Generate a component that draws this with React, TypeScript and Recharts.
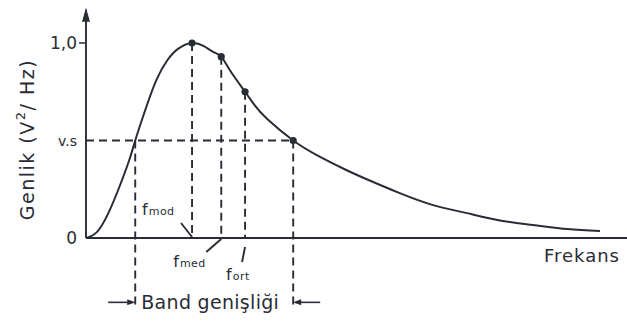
import React from "react";
import {
  ComposedChart,
  Line,
  Scatter,
  XAxis,
  YAxis,
  ReferenceLine,
  ReferenceDot,
} from "recharts";

// spectrum curve (frequency in arbitrary units, amplitude normalised to peak)
const freq = [0, 2, 4, 6, 8, 9.1, 11, 13, 15, 17, 19.6, 21.7, 23.5, 25, 26.6, 29.4, 31.2, 33.5, 38.3, 43, 48, 52, 58, 64, 70, 76.5, 82.6, 89, 95];
const amp = [0, 0.03, 0.12, 0.25, 0.4, 0.5, 0.66, 0.81, 0.91, 0.97, 1.0, 0.985, 0.955, 0.93, 0.86, 0.75, 0.68, 0.61, 0.5, 0.42, 0.35, 0.3, 0.23, 0.17, 0.13, 0.09, 0.067, 0.046, 0.036];

// characteristic frequencies
const fMod = 19.6;
const fMed = 25;
const fOrt = 29.4;
const bandLo = 9.1;
const bandHi = 38.3;
const markFreq = [fMod, fMed, fOrt, bandHi];
const markAmp = [1.0, 0.93, 0.75, 0.5];

const halfPower = 0.5;
const yTicks = [0, 0.5, 1];
const yTickText = ["0", "v.s", "1,0"];

const curve = freq.map((f, i) => ({ f, a: amp[i] }));
const marks = markFreq.map((f, i) => ({ f, a: markAmp[i] }));

const INK = "#2a2c35";
const FONT = "'DejaVu Sans', sans-serif";
const DASH = "8 5";
const SW = 1.9;
const BAND_Y = -0.33;

function YTick(props: any) {
  const { x, y, payload } = props;
  const i = yTicks.indexOf(payload.value);
  const big = payload.value !== halfPower;
  return (
    <g>
      <text
        x={x}
        y={y}
        textAnchor="end"
        dominantBaseline="central"
        fontFamily={FONT}
        fontSize={big ? 17 : 14}
        fill={INK}
      >
        {yTickText[i]}
      </text>
      {payload.value === 1 && (
        <line x1={x + 2} y1={y} x2={x + 8} y2={y} stroke={INK} strokeWidth={1.5} />
      )}
    </g>
  );
}

function FLabel({ x, y, sub }: { x: number; y: number; sub: string }) {
  return (
    <text x={x} y={y} fontFamily={FONT} fill={INK} fontSize={16}>
      f<tspan fontSize={11} dx={1} letterSpacing={0.5}>{sub}</tspan>
    </text>
  );
}

export default function App() {
  return (
    <div style={{ position: "absolute", left: 0, top: 0, background: "#fff" }}>
      <ComposedChart
        width={627}
        height={333}
        data={curve}
        margin={{ top: 4, right: 0, left: 0, bottom: 17 }}
      >
        <XAxis dataKey="f" type="number" domain={[0, 100]} hide />
        <YAxis
          type="number"
          domain={[-0.4, 1.2]}
          ticks={yTicks}
          width={86}
          axisLine={false}
          tickLine={false}
          tickSize={0}
          tickMargin={9}
          tick={<YTick />}
          allowDataOverflow
        />

        {/* axes */}
        <ReferenceLine segment={[{ x: 0, y: 0 }, { x: 100, y: 0 }]} stroke={INK} strokeWidth={SW} ifOverflow="visible" />
        <ReferenceLine segment={[{ x: 0, y: 0 }, { x: 0, y: 1.17 }]} stroke={INK} strokeWidth={SW} ifOverflow="visible" />
        <ReferenceDot
          x={0}
          y={1.17}
          ifOverflow="visible"
          shape={(p: any) => (
            <path d={`M${p.cx},${p.cy - 2} L${p.cx - 4},${p.cy + 12} L${p.cx + 4},${p.cy + 12} Z`} fill={INK} />
          )}
        />

        {/* half-power level and band edges */}
        <ReferenceLine segment={[{ x: 0, y: halfPower }, { x: bandHi, y: halfPower }]} stroke={INK} strokeWidth={SW} strokeDasharray={DASH} ifOverflow="visible" />
        <ReferenceLine segment={[{ x: bandLo, y: halfPower }, { x: bandLo, y: BAND_Y - 0.02 }]} stroke={INK} strokeWidth={SW} strokeDasharray={DASH} ifOverflow="visible" />
        <ReferenceLine segment={[{ x: bandHi, y: halfPower }, { x: bandHi, y: BAND_Y - 0.02 }]} stroke={INK} strokeWidth={SW} strokeDasharray={DASH} ifOverflow="visible" />

        {/* drop lines for mode, median and mean */}
        {markFreq.slice(0, 3).map((f, i) => (
          <ReferenceLine
            key={f}
            segment={[{ x: f, y: markAmp[i] }, { x: f, y: 0 }]}
            stroke={INK}
            strokeWidth={SW}
            strokeDasharray={DASH}
            ifOverflow="visible"
          />
        ))}

        <Line
          type="natural"
          dataKey="a"
          stroke={INK}
          strokeWidth={2}
          dot={false}
          activeDot={false}
          isAnimationActive={false}
        />
        <Scatter
          data={marks}
          dataKey="a"
          fill={INK}
          isAnimationActive={false}
          shape={(p: any) => <circle cx={p.cx} cy={p.cy} r={3.6} fill={INK} />}
        />

        {/* frequency labels with leader strokes */}
        <ReferenceDot
          x={fMod}
          y={0}
          ifOverflow="visible"
          shape={(p: any) => (
            <g>
              <line x1={p.cx - 11} y1={p.cy - 15} x2={p.cx} y2={p.cy - 1} stroke={INK} strokeWidth={SW} />
              <FLabel x={p.cx - 50} y={p.cy - 23} sub="mod" />
            </g>
          )}
        />
        <ReferenceDot
          x={fMed}
          y={0}
          ifOverflow="visible"
          shape={(p: any) => (
            <g>
              <line x1={p.cx - 15} y1={p.cy + 14} x2={p.cx} y2={p.cy + 1} stroke={INK} strokeWidth={SW} />
              <FLabel x={p.cx - 48} y={p.cy + 29} sub="med" />
            </g>
          )}
        />
        <ReferenceDot
          x={fOrt}
          y={0}
          ifOverflow="visible"
          shape={(p: any) => (
            <g>
              <line x1={p.cx} y1={p.cy + 9} x2={p.cx - 3} y2={p.cy + 24} stroke={INK} strokeWidth={SW} />
              <FLabel x={p.cx - 19} y={p.cy + 42} sub="ort" />
            </g>
          )}
        />

        {/* bandwidth marker */}
        <ReferenceDot
          x={bandLo}
          y={BAND_Y}
          ifOverflow="visible"
          shape={(p: any) => (
            <g>
              <line x1={p.cx - 27} y1={p.cy} x2={p.cx - 2} y2={p.cy} stroke={INK} strokeWidth={1.6} />
              <path d={`M${p.cx},${p.cy} L${p.cx - 8},${p.cy - 3} L${p.cx - 8},${p.cy + 3} Z`} fill={INK} />
            </g>
          )}
        />
        <ReferenceDot
          x={bandHi}
          y={BAND_Y}
          ifOverflow="visible"
          shape={(p: any) => (
            <g>
              <line x1={p.cx + 2} y1={p.cy} x2={p.cx + 27} y2={p.cy} stroke={INK} strokeWidth={1.6} />
              <path d={`M${p.cx},${p.cy} L${p.cx + 8},${p.cy - 3} L${p.cx + 8},${p.cy + 3} Z`} fill={INK} />
            </g>
          )}
        />
        <ReferenceDot
          x={(bandLo + bandHi) / 2}
          y={BAND_Y}
          ifOverflow="visible"
          shape={(p: any) => (
            <text x={p.cx - 4} y={p.cy} textAnchor="middle" dominantBaseline="central" fontFamily={FONT} fontSize={19} letterSpacing={0.3} fill={INK}>
              Band genişliği
            </text>
          )}
        />

        {/* axis titles */}
        <ReferenceDot
          x={100}
          y={0}
          ifOverflow="visible"
          shape={(p: any) => (
            <text x={p.cx - 7} y={p.cy + 24} textAnchor="end" fontFamily={FONT} fontSize={18} letterSpacing={1} fill={INK}>
              Frekans
            </text>
          )}
        />
        <ReferenceDot
          x={0}
          y={halfPower}
          ifOverflow="visible"
          shape={(p: any) => (
            <text
              x={p.cx - 59}
              y={p.cy - 1}
              transform={`rotate(-90 ${p.cx - 59} ${p.cy - 1})`}
              textAnchor="middle"
              dominantBaseline="central"
              fontFamily={FONT}
              fontSize={19}
              letterSpacing={1.5}
              fill={INK}
            >
              Genlik (V<tspan fontSize={13} dy={-7}>2</tspan>
              <tspan dy={7}>/ Hz)</tspan>
            </text>
          )}
        />
      </ComposedChart>
    </div>
  );
}
